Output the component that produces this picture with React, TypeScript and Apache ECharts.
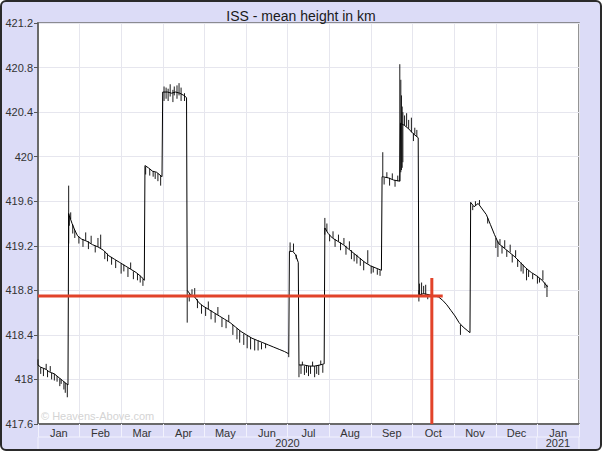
import React, { useEffect, useRef } from 'react';
import * as echarts from 'echarts';

const chartTitle = 'ISS - mean height in km';
const monthLabels = ['Jan', 'Feb', 'Mar', 'Apr', 'May', 'Jun', 'Jul', 'Aug', 'Sep', 'Oct', 'Nov', 'Dec', 'Jan'];
const yearLabels = ['2020', '2021'];
const watermark = '© Heavens-Above.com';
const yMin = 417.6;
const yMax = 421.2;
const yStep = 0.4;
const xStart = '2020-01-01';
const xEnd = '2021-02-01';

type P = [string, number];
type S = [string, number, number]; // date, level, spike tip

// ---- mean height (base track) ----
const baseJan: P[] = [
  ['2020-01-01', 418.13], ['2020-01-03', 418.11], ['2020-01-05', 418.10], ['2020-01-07', 418.09],
  ['2020-01-09', 418.07], ['2020-01-11', 418.06], ['2020-01-13', 418.05], ['2020-01-15', 418.03],
  ['2020-01-17', 418.01], ['2020-01-19', 417.99], ['2020-01-21', 417.97], ['2020-01-23', 417.95],
];
const baseFebMar: P[] = [
  ['2020-01-23 12:00', 419.49], ['2020-01-24', 419.47], ['2020-01-26', 419.40], ['2020-01-28', 419.34],
  ['2020-01-30', 419.29], ['2020-02-02', 419.26], ['2020-02-06', 419.24], ['2020-02-10', 419.21],
  ['2020-02-14', 419.19], ['2020-02-18', 419.16], ['2020-02-22', 419.11], ['2020-02-26', 419.08],
  ['2020-03-01', 419.05], ['2020-03-05', 419.02], ['2020-03-09', 418.99], ['2020-03-13', 418.96],
  ['2020-03-17', 418.92], ['2020-03-19', 418.89],
];
const baseLateMar: P[] = [
  ['2020-03-19 12:00', 419.92], ['2020-03-22', 419.90], ['2020-03-25', 419.87], ['2020-03-28', 419.86],
  ['2020-04-01', 419.82],
];
const baseApr: P[] = [
  ['2020-04-01 12:00', 420.58], ['2020-04-05', 420.58], ['2020-04-08', 420.57], ['2020-04-11', 420.58],
  ['2020-04-14', 420.57], ['2020-04-17', 420.55], ['2020-04-19', 420.53],
];
const baseMayJun: P[] = [
  ['2020-04-19 12:00', 418.80], ['2020-04-22', 418.76], ['2020-04-25', 418.74], ['2020-04-28', 418.69],
  ['2020-05-01', 418.66], ['2020-05-05', 418.63], ['2020-05-09', 418.60], ['2020-05-13', 418.57],
  ['2020-05-17', 418.54], ['2020-05-21', 418.51], ['2020-05-25', 418.47], ['2020-05-29', 418.43],
  ['2020-06-02', 418.40], ['2020-06-06', 418.37], ['2020-06-10', 418.35], ['2020-06-14', 418.33],
  ['2020-06-18', 418.31], ['2020-06-22', 418.29], ['2020-06-26', 418.27], ['2020-06-30', 418.25],
  ['2020-07-03', 418.23],
];
const baseEarlyJul: P[] = [
  ['2020-07-03 12:00', 419.15], ['2020-07-06', 419.15], ['2020-07-08', 419.12], ['2020-07-10', 419.05],
];
const baseLateJul: P[] = [
  ['2020-07-10 12:00', 418.13], ['2020-07-14', 418.13], ['2020-07-18', 418.12], ['2020-07-22', 418.12],
  ['2020-07-26', 418.13], ['2020-07-29', 418.14],
];
const baseAug: P[] = [
  ['2020-07-29 12:00', 419.36], ['2020-08-01', 419.31], ['2020-08-04', 419.27], ['2020-08-08', 419.24],
  ['2020-08-12', 419.21], ['2020-08-16', 419.17], ['2020-08-20', 419.13], ['2020-08-24', 419.09],
  ['2020-08-28', 419.05], ['2020-09-01', 419.02], ['2020-09-05', 419.00], ['2020-09-09', 418.98],
];
const baseSep: P[] = [
  ['2020-09-09 12:00', 419.82], ['2020-09-14', 419.81], ['2020-09-18', 419.79], ['2020-09-22 12:00', 419.78],
  ['2020-09-23', 420.30], ['2020-09-26', 420.28], ['2020-09-29', 420.25], ['2020-10-02', 420.21],
  ['2020-10-06', 420.17],
];
const baseOctNov: P[] = [
  ['2020-10-06 12:00', 418.76], ['2020-10-10', 418.77], ['2020-10-14', 418.76], ['2020-10-18', 418.75],
  ['2020-10-21', 418.74], ['2020-10-24', 418.71], ['2020-10-27', 418.67], ['2020-10-30', 418.62],
  ['2020-11-02', 418.57], ['2020-11-05', 418.51], ['2020-11-08', 418.47], ['2020-11-11', 418.44],
  ['2020-11-13', 418.42],
];
const baseNovDec: P[] = [
  ['2020-11-13 12:00', 419.59], ['2020-11-16', 419.55], ['2020-11-19', 419.58], ['2020-11-22', 419.53],
  ['2020-11-25', 419.48], ['2020-11-28', 419.39], ['2020-12-01', 419.30], ['2020-12-04', 419.22],
  ['2020-12-08', 419.18], ['2020-12-12', 419.14], ['2020-12-16', 419.10], ['2020-12-20', 419.05],
  ['2020-12-24', 419.00], ['2020-12-28', 418.96], ['2021-01-01', 418.93], ['2021-01-05', 418.89],
  ['2021-01-09', 418.83],
];

// ---- short excursions (vertical strokes) ----
const spikesJan: S[] = [
  ['2020-01-01', 418.13, 418.18], ['2020-01-03', 418.11, 418.05], ['2020-01-05', 418.10, 418.03],
  ['2020-01-07', 418.09, 418.14], ['2020-01-08', 418.08, 418.02], ['2020-01-10', 418.07, 418.12],
  ['2020-01-11', 418.06, 418.00], ['2020-01-13', 418.05, 417.99], ['2020-01-15', 418.03, 417.98],
  ['2020-01-17', 418.01, 417.94], ['2020-01-18', 418.00, 417.96], ['2020-01-20', 417.98, 417.91],
  ['2020-01-21', 417.97, 417.88], ['2020-01-22 12:00', 417.96, 417.84],
];
const spikesFebMar: S[] = [
  ['2020-01-23 12:00', 419.22, 419.74], ['2020-01-24', 419.47, 419.38], ['2020-01-25', 419.44, 419.50],
  ['2020-01-26 12:00', 419.39, 419.31], ['2020-01-28', 419.34, 419.27], ['2020-01-31', 419.28, 419.22],
  ['2020-02-03', 419.26, 419.19], ['2020-02-05', 419.25, 419.32], ['2020-02-07', 419.24, 419.17],
  ['2020-02-09', 419.22, 419.29], ['2020-02-12', 419.20, 419.14], ['2020-02-14', 419.19, 419.27],
  ['2020-02-16', 419.18, 419.30], ['2020-02-19', 419.15, 419.08], ['2020-02-21', 419.13, 419.06],
  ['2020-02-24', 419.10, 419.03], ['2020-02-27', 419.07, 419.00], ['2020-03-02', 419.04, 418.95],
  ['2020-03-04', 419.03, 418.97], ['2020-03-07', 419.00, 418.92], ['2020-03-09', 418.99, 419.05],
  ['2020-03-11', 418.97, 418.90], ['2020-03-14', 418.95, 418.89], ['2020-03-16', 418.93, 418.87],
  ['2020-03-18', 418.90, 418.84],
];
const spikesLateMar: S[] = [
  ['2020-03-20', 419.91, 419.84], ['2020-03-23', 419.89, 419.83], ['2020-03-25 12:00', 419.87, 419.82],
  ['2020-03-27', 419.86, 419.80], ['2020-03-29', 419.85, 419.78], ['2020-03-31', 419.83, 419.74],
];
const spikesApr: S[] = [
  ['2020-04-02 12:00', 420.50, 420.63], ['2020-04-04', 420.52, 420.62], ['2020-04-05 12:00', 420.50, 420.61],
  ['2020-04-07', 420.54, 420.65], ['2020-04-09', 420.49, 420.60], ['2020-04-10', 420.55, 420.63],
  ['2020-04-12', 420.52, 420.64], ['2020-04-13 12:00', 420.55, 420.66], ['2020-04-15', 420.50, 420.62],
  ['2020-04-17 12:00', 420.50, 420.57],
];
const spikesMayJun: S[] = [
  ['2020-04-19 12:00', 418.51, 418.80], ['2020-04-21', 418.77, 418.70], ['2020-04-23', 418.76, 418.81],
  ['2020-04-25', 418.74, 418.82], ['2020-04-27', 418.72, 418.64], ['2020-04-30', 418.67, 418.59],
  ['2020-05-03', 418.65, 418.57], ['2020-05-05', 418.63, 418.70], ['2020-05-07', 418.62, 418.54],
  ['2020-05-10', 418.59, 418.51], ['2020-05-12', 418.58, 418.65], ['2020-05-15', 418.55, 418.47],
  ['2020-05-18', 418.53, 418.46], ['2020-05-20', 418.52, 418.58], ['2020-05-23', 418.49, 418.40],
  ['2020-05-26', 418.46, 418.36], ['2020-05-28', 418.44, 418.33], ['2020-05-31', 418.41, 418.31],
  ['2020-06-02 12:00', 418.40, 418.28], ['2020-06-05', 418.38, 418.27], ['2020-06-08', 418.36, 418.26],
  ['2020-06-10 12:00', 418.35, 418.26], ['2020-06-13', 418.33, 418.27], ['2020-06-16', 418.32, 418.28],
  ['2020-07-03', 418.23, 418.20],
];
const spikesEarlyJul: S[] = [
  ['2020-07-04', 419.15, 419.23], ['2020-07-06 12:00', 419.15, 419.22], ['2020-07-08 12:00', 419.08, 419.12],
];
const spikesLateJul: S[] = [
  ['2020-07-10 12:00', 418.02, 418.13], ['2020-07-12', 418.13, 418.05], ['2020-07-13', 418.13, 418.16],
  ['2020-07-14 12:00', 418.12, 418.04], ['2020-07-16', 418.12, 418.06], ['2020-07-17 12:00', 418.12, 418.03],
  ['2020-07-19', 418.12, 418.05], ['2020-07-20 12:00', 418.12, 418.16], ['2020-07-22', 418.12, 418.02],
  ['2020-07-23 12:00', 418.12, 418.05], ['2020-07-25', 418.13, 418.04], ['2020-07-26 12:00', 418.13, 418.17],
  ['2020-07-28', 418.13, 418.06],
];
const spikesAug: S[] = [
  ['2020-07-29 12:00', 419.30, 419.45], ['2020-07-31', 419.33, 419.40], ['2020-08-02', 419.30, 419.24],
  ['2020-08-04 12:00', 419.27, 419.33], ['2020-08-06', 419.26, 419.19], ['2020-08-08 12:00', 419.24, 419.30],
  ['2020-08-10', 419.23, 419.16], ['2020-08-12 12:00', 419.21, 419.27], ['2020-08-14', 419.20, 419.12],
  ['2020-08-16 12:00', 419.17, 419.24], ['2020-08-18', 419.16, 419.08], ['2020-08-20', 419.13, 419.06],
  ['2020-08-22', 419.12, 419.04], ['2020-08-24 12:00', 419.09, 419.02], ['2020-08-27', 419.06, 418.98],
  ['2020-08-30', 419.04, 419.16], ['2020-09-01 12:00', 419.02, 418.95], ['2020-09-03', 419.01, 418.96],
  ['2020-09-06', 418.99, 418.94], ['2020-09-08', 418.98, 418.93],
];
const spikesSep: S[] = [
  ['2020-09-10', 419.82, 420.04], ['2020-09-11', 419.81, 419.75], ['2020-09-13', 419.81, 419.86],
  ['2020-09-15', 419.81, 419.74], ['2020-09-17', 419.80, 419.85], ['2020-09-19', 419.79, 419.73],
  ['2020-09-21', 419.78, 419.83], ['2020-09-22 12:00', 419.78, 420.83], ['2020-09-23 06:00', 419.86, 420.69],
  ['2020-09-23 18:00', 419.88, 420.55], ['2020-09-24 06:00', 419.90, 420.45], ['2020-09-24 18:00', 419.95, 420.40],
  ['2020-09-26', 420.28, 420.37], ['2020-09-27 12:00', 420.27, 420.39], ['2020-09-29', 420.25, 420.33],
  ['2020-10-01', 420.22, 420.35], ['2020-10-02 12:00', 420.21, 420.14], ['2020-10-03 12:00', 420.20, 420.26],
  ['2020-10-05', 420.18, 420.24],
];
const spikesOctNov: S[] = [
  ['2020-10-06 12:00', 418.70, 418.80], ['2020-10-07', 418.76, 418.86], ['2020-10-08 12:00', 418.76, 418.87],
  ['2020-10-10', 418.77, 418.84], ['2020-10-11 12:00', 418.76, 418.85], ['2020-10-13', 418.76, 418.72],
  ['2020-11-06', 418.49, 418.40],
];
const spikesNovDec: S[] = [
  ['2020-11-15', 419.56, 419.52], ['2020-11-17', 419.56, 419.60], ['2020-11-20', 419.57, 419.61],
  ['2020-11-26', 419.45, 419.40], ['2020-12-02', 419.27, 419.18], ['2020-12-03 12:00', 419.24, 419.10],
  ['2020-12-05', 419.21, 419.26], ['2020-12-06 12:00', 419.20, 419.13], ['2020-12-08 12:00', 419.18, 419.25],
  ['2020-12-10', 419.16, 419.10], ['2020-12-12 12:00', 419.14, 419.21], ['2020-12-14', 419.12, 419.05],
  ['2020-12-16 12:00', 419.10, 419.16], ['2020-12-18', 419.08, 419.01], ['2020-12-20 12:00', 419.05, 418.97],
  ['2020-12-22', 419.03, 418.95], ['2020-12-24 12:00', 419.00, 418.89], ['2020-12-26', 418.98, 418.92],
  ['2020-12-29', 418.95, 418.90], ['2021-01-01 12:00', 418.93, 418.86], ['2021-01-03', 418.91, 418.87],
  ['2021-01-05 12:00', 418.89, 418.98], ['2021-01-07', 418.87, 418.82], ['2021-01-08 12:00', 418.85, 418.74],
];

const baseTrack: P[] = [
  ...baseJan, ...baseFebMar, ...baseLateMar, ...baseApr, ...baseMayJun, ...baseEarlyJul,
  ...baseLateJul, ...baseAug, ...baseSep, ...baseOctNov, ...baseNovDec,
];
const spikes: S[] = [
  ...spikesJan, ...spikesFebMar, ...spikesLateMar, ...spikesApr, ...spikesMayJun, ...spikesEarlyJul,
  ...spikesLateJul, ...spikesAug, ...spikesSep, ...spikesOctNov, ...spikesNovDec,
];

const markerLevel = 418.75;
const markerHStart = '2020-01-01';
const markerHEnd = '2020-10-24';
const markerDate = '2020-10-16';
const markerVTop = 418.91;

const FONT = '"Liberation Sans", Arial, sans-serif';
const BG = '#DCDCF7';
const GRID_LINE = '#E6E6EE';
const SEP_LINE = '#F2F2FD';
const RED = '#E2432A';

export default function App() {
  const ref = useRef<HTMLDivElement>(null);
  useEffect(() => {
    document.body.style.margin = '0';
    const chart = echarts.init(ref.current!, null, { renderer: 'svg' });
    const gridLeft = 36, gridTop = 21, gridRight = 21, gridBottom = 25;
    const spikeData = spikes.map(([d, a, b]) => [+echarts.time.parse(d), a, b]);
    chart.setOption({
      animation: false,
      backgroundColor: 'transparent',
      textStyle: { fontFamily: FONT },
      title: {
        text: chartTitle,
        left: 'center',
        top: 2,
        textStyle: { fontFamily: FONT, fontSize: 14, fontWeight: 'normal', color: '#1a1a1a' },
      },
      grid: {
        left: gridLeft, top: gridTop, right: gridRight, bottom: gridBottom,
        show: true, backgroundColor: '#ffffff', borderColor: '#707070', borderWidth: 1.5,
      },
      xAxis: [
        { type: 'time', min: xStart, max: xEnd, show: false, splitLine: { show: false } },
        {
          type: 'category',
          data: monthLabels,
          position: 'bottom',
          boundaryGap: true,
          axisLine: { show: true, lineStyle: { color: '#6a6a6a', width: 2 } },
          axisTick: { show: true, interval: 0, length: 13, lineStyle: { color: SEP_LINE, width: 1 } },
          axisLabel: { interval: 0, margin: 3, fontSize: 11, color: '#333', fontFamily: FONT },
          splitLine: { show: true, interval: 0, lineStyle: { color: GRID_LINE, width: 1 } },
        },
      ],
      yAxis: {
        type: 'value',
        min: yMin,
        max: yMax,
        interval: yStep,
        axisLine: { show: true, lineStyle: { color: '#6a6a6a', width: 2 } },
        axisTick: { show: true, length: 4, lineStyle: { color: '#555' } },
        axisLabel: {
          margin: 5, fontSize: 11, color: '#333', fontFamily: FONT,
          formatter: (v: number) => String(parseFloat(v.toFixed(1))),
        },
        splitLine: { show: true, lineStyle: { color: GRID_LINE, width: 1 } },
      },
      series: [
        {
          name: 'height',
          type: 'line',
          xAxisIndex: 0,
          data: baseTrack,
          showSymbol: false,
          symbol: 'none',
          lineStyle: { color: '#000', width: 1 },
          z: 3,
        },
        {
          name: 'excursions',
          type: 'custom',
          xAxisIndex: 0,
          data: spikeData,
          encode: { x: 0, y: [1, 2] },
          renderItem: (_p: any, api: any) => {
            const t = api.value(0);
            const a = api.coord([t, api.value(1)]);
            const b = api.coord([t, api.value(2)]);
            return {
              type: 'line',
              shape: { x1: a[0], y1: a[1], x2: b[0], y2: b[1] },
              style: { stroke: '#1a1a1a', lineWidth: 1 },
            };
          },
          z: 3,
        },
        {
          name: 'levelMarker',
          type: 'line',
          xAxisIndex: 0,
          data: [[markerHStart, markerLevel], [markerHEnd, markerLevel]],
          symbol: 'none',
          lineStyle: { color: RED, width: 3 },
          z: 4,
        },
        {
          name: 'dateMarker',
          type: 'line',
          xAxisIndex: 0,
          data: [[markerDate, markerVTop], [markerDate, yMin]],
          symbol: 'none',
          lineStyle: { color: RED, width: 3 },
          z: 4,
        },
      ],
    });

    const W = chart.getWidth();
    const H = chart.getHeight();
    const left = gridLeft;
    const right = W - gridRight;
    const rowTop = H - gridBottom + 13;
    const px = (y: number, m: number) => chart.convertToPixel({ xAxisIndex: 0 }, new Date(y, m, 1).getTime()) as number;
    const x2020 = px(2020, 0);
    const x2021 = px(2021, 0);
    const xEndPx = px(2021, 1);
    const lineStyle = { stroke: SEP_LINE, lineWidth: 1 };
    chart.setOption({
      graphic: [
        { type: 'line', shape: { x1: left, y1: rowTop, x2: right, y2: rowTop }, style: lineStyle, silent: true },
        { type: 'line', shape: { x1: x2021, y1: rowTop, x2: x2021, y2: H }, style: lineStyle, silent: true },
        { type: 'line', shape: { x1: left, y1: rowTop, x2: left, y2: H }, style: lineStyle, silent: true },
        { type: 'line', shape: { x1: right, y1: rowTop, x2: right, y2: H }, style: lineStyle, silent: true },
        {
          type: 'text', x: (x2020 + x2021) / 2, y: rowTop + 6,
          style: { text: yearLabels[0], fontSize: 11, fill: '#333', fontFamily: FONT, align: 'center', verticalAlign: 'middle' },
          silent: true,
        },
        {
          type: 'text', x: (x2021 + xEndPx) / 2, y: rowTop + 6,
          style: { text: yearLabels[1], fontSize: 11, fill: '#333', fontFamily: FONT, align: 'center', verticalAlign: 'middle' },
          silent: true,
        },
        {
          type: 'text', x: left + 3, y: H - gridBottom - 3,
          style: { text: watermark, fontSize: 11, fill: '#D4D4D4', fontFamily: FONT, align: 'left', verticalAlign: 'bottom' },
          silent: true, z: 1,
        },
      ],
    });
    return () => chart.dispose();
  }, []);
  return (
    <div style={{ width: 602, height: 451, boxSizing: 'border-box', border: '2px solid #2a2a2a', borderRadius: 6, background: BG, overflow: 'hidden' }}>
      <div ref={ref} style={{ width: 598, height: 447 }} />
    </div>
  );
}
